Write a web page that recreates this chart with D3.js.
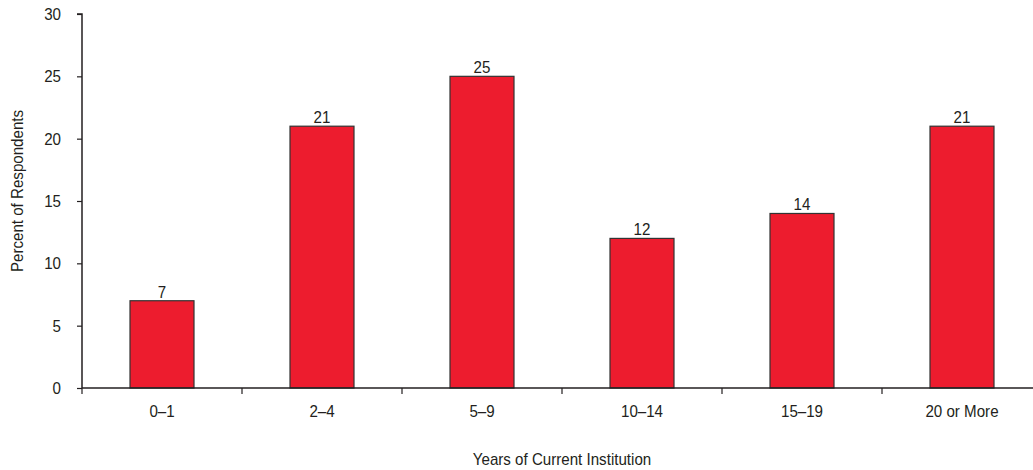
<!DOCTYPE html>
<html><head><meta charset="utf-8">
<script src="https://cdn.jsdelivr.net/npm/d3@7"></script>
<style>
body{margin:0;background:#fff;}
text{font-family:"Liberation Sans Narrow","Arial Narrow","Liberation Sans",sans-serif;fill:#231f20;}
</style></head>
<body><svg id="c" width="1033" height="470"></svg>
<script>
const categories = ["0\u20131","2\u20134","5\u20139","10\u201314","15\u201319","20 or More"];
const values = [7,21,25,12,14,21];
const yTicks = [0,5,10,15,20,25,30];

const SX = 0.89;
const FS = 17;
const svg = d3.select("#c");
const x0 = 82, x1 = 1042, yb = 388, yt = 14;
const x = d3.scaleBand().domain(categories).range([x0,x1]).paddingInner(0.6).paddingOuter(0.3);
const y = d3.scaleLinear().domain([0,30]).range([yb,yt]);

function placeNarrow(sel, px, py){
  sel.attr("x",null).attr("y",null)
     .attr("transform",(d,i)=>`translate(${px(d,i)},${py(d,i)}) scale(${SX},1)`);
}

// bars
svg.selectAll("rect.bar").data(values).enter().append("rect")
  .attr("class","bar")
  .attr("x",(d,i)=>x(categories[i]))
  .attr("width",x.bandwidth())
  .attr("y",d=>y(d))
  .attr("height",d=>yb-y(d))
  .attr("fill","#ed1c2e").attr("stroke","#333").attr("stroke-width",1.2);

const vals = svg.selectAll("text.val").data(values).enter().append("text")
  .attr("class","val")
  .attr("text-anchor","middle").attr("font-size",FS).text(d=>d);
placeNarrow(vals,(d,i)=>x(categories[i])+x.bandwidth()/2,d=>y(d)-3);

// y axis
const ya = d3.axisLeft(y).tickValues(yTicks).tickSize(5).tickPadding(16);
const gy = svg.append("g").attr("transform",`translate(${x0},0)`).call(ya);
gy.attr("font-family",null);
gy.select(".domain").attr("stroke","#231f20").attr("stroke-width",1.5).attr("d",`M-5,${yt}H0V${yb}`);
gy.selectAll(".tick line").attr("stroke","#231f20").attr("stroke-width",1.2);
gy.selectAll(".tick text").attr("font-size",FS)
  .attr("transform",function(){ const xx=+this.getAttribute("x"); this.setAttribute("x", xx/SX); return `scale(${SX},1)`; });

// x axis
const xa = d3.axisBottom(x).tickSize(0).tickPadding(17);
const gx = svg.append("g").attr("transform",`translate(0,${yb})`).call(xa);
gx.attr("font-family",null);
gx.select(".domain").attr("stroke","#231f20").attr("stroke-width",1.5).attr("d",`M${x0},0H${x1}`);
gx.selectAll(".tick text").attr("font-size",FS).attr("transform",`scale(${SX},1)`);
const bticks = categories.map(c=> x(c) + x.bandwidth()/2 - x.step()/2);
svg.append("g").selectAll("line").data(bticks).enter().append("line")
  .attr("x1",d=>d).attr("x2",d=>d).attr("y1",yb).attr("y2",yb+6)
  .attr("stroke","#231f20").attr("stroke-width",1.2);

// titles
svg.append("text").attr("transform",`translate(562,465) scale(${SX},1)`).attr("text-anchor","middle").attr("font-size",FS)
  .text("Years of Current Institution");
svg.append("text").attr("transform",`translate(23,191) rotate(-90) scale(${SX},1)`).attr("text-anchor","middle").attr("font-size",FS)
  .text("Percent of Respondents");
</script></body></html>
